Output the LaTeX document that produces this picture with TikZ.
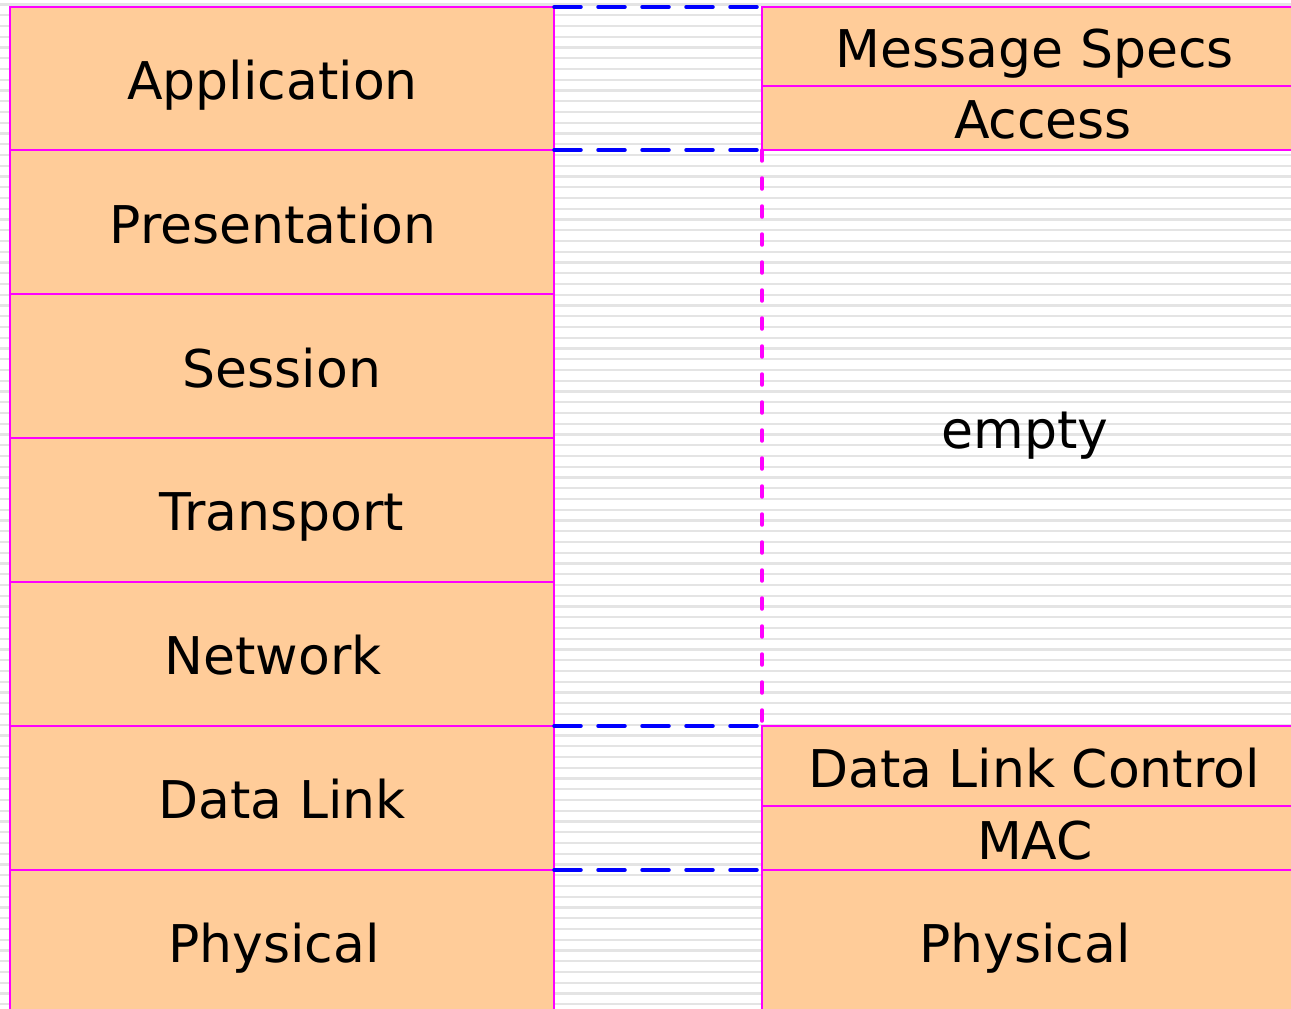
\documentclass[tikz,border=0pt]{standalone}
\usepackage{fontspec}
\setmainfont{DejaVu Sans}
\definecolor{peach}{RGB}{255,204,153}
\definecolor{stripegray}{RGB}{228,228,228}
\definecolor{edge}{RGB}{255,0,255}
\definecolor{linkblue}{RGB}{0,0,255}
\begin{document}
\begin{tikzpicture}[x=1pt,y=-1pt,
  layerbox/.style={draw=edge, line width=2pt, fill=peach, inner sep=0pt, outer sep=0pt,
    anchor=north west, minimum width=#1},
  layerbox/.default=544pt,
  lbl/.style={font=\fontsize{52}{60}\selectfont, inner sep=0pt, anchor=base},
  stripe/.style={draw=stripegray, line width=2.2pt},
  gapline/.style={draw=linkblue, line width=3.5pt, line cap=round, dash pattern=on 27pt off 17pt},
  splitline/.style={draw=edge, line width=3.5pt, line cap=round, dash pattern=on 11pt off 17pt}]
  \useasboundingbox (0,0) rectangle (1291,1009);
  \clip (0,0) rectangle (1291,1009);
  % ruled paper background
  \fill[white] (0,0) rectangle (1291,1009);
  \foreach \k in {0,...,93}
    \draw[stripe] (0,4.5+10.75*\k) -- (1291,4.5+10.75*\k);

  % OSI reference model, left stack
  \node[layerbox, minimum height=143pt] (app) at (10,7)   {};
  \node[layerbox, minimum height=144pt] (pre) at (10,150) {};
  \node[layerbox, minimum height=144pt] (ses) at (10,294) {};
  \node[layerbox, minimum height=144pt] (tra) at (10,438) {};
  \node[layerbox, minimum height=144pt] (net) at (10,582) {};
  \node[layerbox, minimum height=144pt] (dl)  at (10,726) {};
  \node[layerbox, minimum height=146pt] (phy) at (10,870) {};

  % corresponding stack, right side
  \node[layerbox=560pt, minimum height=79pt]  (msg)  at (762,7)   {};
  \node[layerbox=560pt, minimum height=64pt]  (acc)  at (762,86)  {};
  \node[layerbox=560pt, minimum height=80pt]  (dlc)  at (762,726) {};
  \node[layerbox=560pt, minimum height=64pt]  (mac)  at (762,806) {};
  \node[layerbox=560pt, minimum height=146pt] (phy2) at (762,870) {};

  % labels
  \node[lbl] (tapp) at (272.5,99)  {Application};
  \node[lbl] (tpre) at (273,243)   {Presentation};
  \node[lbl] (tses) at (282,387)   {Session};
  \node[lbl] (ttra) at (282,530)   {Transport};
  \node[lbl] (tnet) at (273,674)   {Network};
  \node[lbl] (tdl)  at (282,818)   {Data Link};
  \node[lbl] (tphy) at (274,962)   {Physical};
  \node[lbl] (tmsg) at (1035,67)   {Message Specs};
  \node[lbl] (tacc) at (1043,138)  {Access};
  \node[lbl] (temp) at (1025,448)  {empty};
  \node[lbl] (tdlc) at (1034,787)  {Data Link Control};
  \node[lbl] (tmac) at (1035,859)  {MAC};
  \node[lbl] (tph2) at (1025,962)  {Physical};

  % layer correspondences across the gap
  \draw[gapline] (app.north east) -- (msg.north west);
  \draw[gapline] (app.south east) -- (acc.south west);
  \draw[gapline] (net.south east) -- (dlc.north west);
  \draw[gapline] (dl.south east)  -- (phy2.north west);
  \draw[splitline] (acc.south west) -- (dlc.north west);
\end{tikzpicture}
\end{document}
